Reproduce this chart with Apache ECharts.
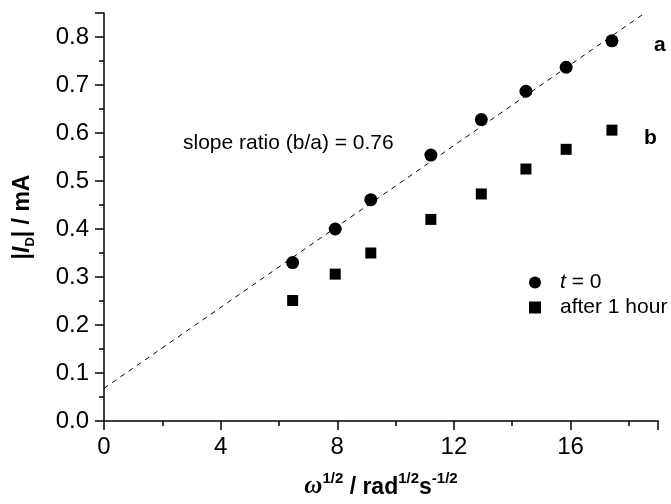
<!DOCTYPE html>
<html>
<head>
<meta charset="utf-8">
<script src="https://cdn.jsdelivr.net/npm/echarts@6/dist/echarts.min.js"></script>
<style>html,body{margin:0;padding:0;background:#fff}#c{width:671px;height:504px}</style>
</head>
<body>
<div id="c"></div>
<script>
// Data
const xVals = [6.47, 7.93, 9.15, 11.21, 12.94, 14.47, 15.85, 17.42];
const t0Vals = [0.330, 0.400, 0.461, 0.554, 0.628, 0.687, 0.737, 0.792];
const hourVals = [0.251, 0.306, 0.350, 0.420, 0.473, 0.525, 0.566, 0.606];
const fitX = [0, 18.55];
const fitY = [0.068, 0.85];
const seriesNames = ['t = 0', 'after 1 hour'];

const FONT = 'Liberation Sans, Arial, sans-serif';
const chart = echarts.init(document.getElementById('c'), null, {renderer: 'canvas'});
const zip = (xs, ys) => xs.map((x, i) => [x, ys[i]]);

chart.setOption({
  backgroundColor: '#fff',
  animation: false,
  grid: {left: 104, right: 13, top: 13, bottom: 80, containLabel: false},
  xAxis: {
    type: 'value', min: 0, max: 19, interval: 4,
    axisLine: {show: true, lineStyle: {color: '#000', width: 1.5}},
    axisTick: {show: true, inside: false, length: 9, lineStyle: {color: '#000', width: 1.5}},
    minorTick: {show: true, splitNumber: 2, length: 5, lineStyle: {color: '#000', width: 1.5}},
    splitLine: {show: false},
    axisLabel: {color: '#000', fontSize: 24, fontFamily: FONT, margin: 14, showMaxLabel: false},
    name: '{w|ω}{s|1/2}{b| / rad}{s|1/2}{b|s}{s|-1/2}',
    nameLocation: 'middle', nameGap: 50,
    nameTextStyle: {
      color: '#000', fontFamily: FONT,
      rich: {
        w: {fontFamily: 'Liberation Serif, serif', fontStyle: 'italic', fontWeight: 'bold', fontSize: 25, color: '#000', lineHeight: 28, verticalAlign: 'bottom'},
        b: {fontFamily: FONT, fontWeight: 'bold', fontSize: 23, color: '#000', lineHeight: 28, verticalAlign: 'bottom'},
        s: {fontFamily: FONT, fontWeight: 'bold', fontSize: 15, color: '#000', lineHeight: 28, verticalAlign: 'top'}
      }
    }
  },
  yAxis: {
    type: 'value', min: 0, max: 0.85, interval: 0.1,
    axisLine: {show: true, lineStyle: {color: '#000', width: 1.5}},
    axisTick: {show: true, inside: false, length: 9, lineStyle: {color: '#000', width: 1.5}},
    minorTick: {show: true, splitNumber: 2, length: 5, lineStyle: {color: '#000', width: 1.5}},
    splitLine: {show: false},
    axisLabel: {color: '#000', fontSize: 24, fontFamily: FONT, margin: 15, showMaxLabel: false,
      formatter: v => v.toFixed(1)},
    name: '{b||}{i|I}{d|D}{b|| / mA}',
    nameLocation: 'middle', nameGap: 67, nameRotate: 90,
    nameTextStyle: {
      color: '#000', fontFamily: FONT,
      rich: {
        b: {fontFamily: FONT, fontWeight: 'bold', fontSize: 23, color: '#000', lineHeight: 26, verticalAlign: 'top'},
        i: {fontFamily: FONT, fontWeight: 'bold', fontStyle: 'italic', fontSize: 23, color: '#000', lineHeight: 26, verticalAlign: 'top'},
        d: {fontFamily: FONT, fontWeight: 'bold', fontSize: 13, color: '#000', lineHeight: 26, verticalAlign: 'bottom'}
      }
    }
  },
  legend: {
    orient: 'vertical', left: 524, top: 267, itemWidth: 12, itemHeight: 12, itemGap: 4,
    data: [{name: seriesNames[0], icon: 'circle'}, {name: seriesNames[1], icon: 'rect'}],
    formatter: name => name === 't = 0' ? '{i|t}{n| = 0}' : '{n|' + name + '}',
    textStyle: {
      color: '#000', fontSize: 21, fontFamily: FONT, padding: [0, 0, 0, 14],
      rich: {
        i: {fontStyle: 'italic', fontSize: 21, fontFamily: FONT, color: '#000'},
        n: {fontSize: 21, fontFamily: FONT, color: '#000'}
      }
    }
  },
  graphic: [
    {type: 'text', left: 183, top: 133, style: {text: 'slope ratio (b/a) = 0.76', fill: '#000', font: '21px ' + FONT}},
    {type: 'text', left: 654, top: 35, style: {text: 'a', fill: '#000', font: 'bold 21px ' + FONT}},
    {type: 'text', left: 644, top: 128, style: {text: 'b', fill: '#000', font: 'bold 21px ' + FONT}}
  ],
  series: [
    {
      name: 'fit', type: 'line', data: zip(fitX, fitY), symbol: 'none', silent: true,
      lineStyle: {color: '#000', width: 1, type: [5, 5]}, z: 1
    },
    {
      name: seriesNames[0], type: 'scatter', data: zip(xVals, t0Vals), symbol: 'circle', symbolSize: 13,
      itemStyle: {color: '#000', opacity: 1}, z: 3
    },
    {
      name: seriesNames[1], type: 'scatter', data: zip(xVals, hourVals), symbol: 'rect', symbolSize: 11,
      itemStyle: {color: '#000', opacity: 1}, z: 3
    }
  ]
});
</script>
</body>
</html>
